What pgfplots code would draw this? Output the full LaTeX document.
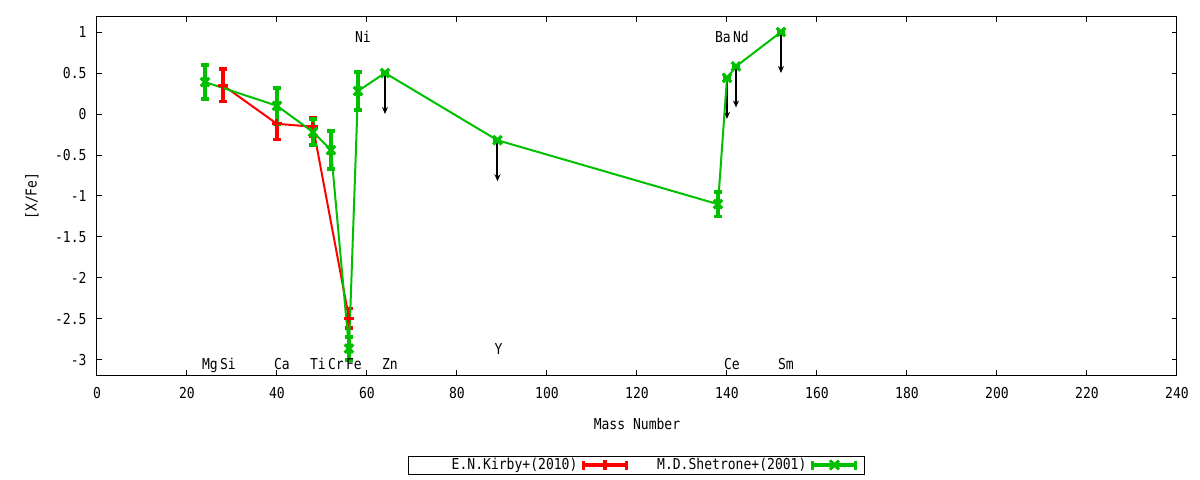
\documentclass[border=0pt]{standalone}
\usepackage{fontspec}
\setmainfont{DejaVu Sans Mono}[FakeStretch=0.87]
\usepackage{pgfplots}
\usepackage{pgfplotstable}
\pgfplotsset{compat=1.18}
\usetikzlibrary{arrows.meta}
\definecolor{gpgreen}{RGB}{0,192,0}

\pgfplotstableread{
x y e
28 0.35 0.20
40 -0.12 0.19
48 -0.155 0.115
56 -2.49 0.12
}\kirby

\pgfplotstableread{
x y e
24 0.39 0.21
40 0.10 0.22
48 -0.22 0.16
52 -0.44 0.23
56 -2.86 0.14
58 0.28 0.23
64 0.50 0
89 -0.32 0
138 -1.10 0.15
140 0.44 0
142 0.58 0
152 1.00 0
}\shetrone

\pgfplotstableread{
x y v
64 0.50 -0.5
89 -0.32 -0.5
140 0.44 -0.5
142 0.58 -0.5
152 1.00 -0.5
}\limits

\begin{document}
\begin{tikzpicture}[font=\fontsize{15bp}{17bp}\selectfont]
\begin{axis}[
  at={(0,0)}, anchor=south west,
  scale only axis, width=1080bp, height=358bp,
  xmin=0, xmax=240, ymin=-3.183, ymax=1.183,
  xtick={0,20,40,60,80,100,120,140,160,180,200,220,240},
  xticklabels={0,20,40,60,80,100,120,140,160,180,200,220,240},
  ytick={-3,-2.5,-2,-1.5,-1,-0.5,0,0.5,1},
  yticklabels={-3,-2.5,-2,-1.5,-1,-0.5,0,0.5,1},
  major tick length=5bp,
  tick style={black, line width=1bp},
  axis line style={black, line width=1bp},
  xticklabel style={yshift=-9bp},
  yticklabel style={xshift=-7bp},
  xlabel={Mass Number},
  ylabel={[X/Fe]},
  xlabel style={at={(axis description cs:0.5,-0.1369)}, anchor=center},
  ylabel style={at={(axis description cs:-0.0602,0.5)}, anchor=center, rotate=0},
  legend columns=2,
  legend plot pos=right,
  legend style={at={(axis description cs:0.4995,-0.2514)}, anchor=center,
    draw=black, line width=0.8bp, inner xsep=2bp, inner ysep=0.5bp,
    column sep=0pt, font=\fontsize{15bp}{17bp}\selectfont},
  clip=false,
]
\addplot[black, line width=2bp, quiver={u=0, v=\thisrow{v}},
  -{Stealth[length=7bp, width=6bp]}, forget plot] table[x=x, y=y] {\limits};

\addplot[color=red, line width=2bp, mark=+, mark size=5bp,
  mark options={line width=3bp, solid},
  error bars/.cd, y dir=both, y explicit,
  error bar style={line width=3.5bp},
  error mark options={rotate=90, line width=3.5bp, mark size=4bp},
  /pgfplots/legend image code/.code={
    \draw[red, line width=4bp] (5bp,0) -- (48bp,0);
    \draw[red, line width=3.5bp] (5bp,-4.5bp) -- (5bp,4.5bp) (48bp,-4.5bp) -- (48bp,4.5bp);
    \draw[red, line width=4bp] (26.5bp,-5bp) -- (26.5bp,5bp);
  }
] table[x=x, y=y, y error=e] {\kirby};
\addlegendentry[text width=163bp, align=right, inner xsep=4bp]{E.N.Kirby+(2010)}

\addplot[color=gpgreen, line width=2bp, mark=x, mark size=6bp,
  mark options={line width=3.2bp, solid},
  error bars/.cd, y dir=both, y explicit,
  error bar style={line width=3.5bp},
  error mark options={rotate=90, line width=3.5bp, mark size=4bp},
  /pgfplots/legend image code/.code={
    \draw[gpgreen, line width=4bp] (4bp,0) -- (47bp,0);
    \draw[gpgreen, line width=3.5bp] (4bp,-4.5bp) -- (4bp,4.5bp) (47bp,-4.5bp) -- (47bp,4.5bp);
    \draw[gpgreen, line width=3bp] (21.5bp,-4.5bp) -- (30.5bp,4.5bp) (21.5bp,4.5bp) -- (30.5bp,-4.5bp);
    \path (53bp,0);
  }
] table[x=x, y=y, y error=e] {\shetrone};
\addlegendentry[text width=174bp, align=right, inner xsep=4bp]{M.D.Shetrone+(2001)}

\begin{scope}[every node/.style={anchor=base west, inner sep=0pt}]
\node at (axis cs:23.3,-3.11) {Mg};
\node at (axis cs:27.3,-3.11) {Si};
\node at (axis cs:39.3,-3.11) {Ca};
\node at (axis cs:47.3,-3.11) {Ti};
\node at (axis cs:51.3,-3.11) {Cr};
\node at (axis cs:55.3,-3.11) {Fe};
\node at (axis cs:63.3,-3.11) {Zn};
\node at (axis cs:57.3,0.87) {Ni};
\node at (axis cs:88.3,-2.937) {Y};
\node at (axis cs:137.3,0.87) {Ba};
\node at (axis cs:139.3,-3.11) {Ce};
\node at (axis cs:141.3,0.87) {Nd};
\node at (axis cs:151.3,-3.11) {Sm};
\end{scope}
\end{axis}
\pgfresetboundingbox
\path[use as bounding box] (-97bp,-105bp) rectangle (1103bp,375bp);
\end{tikzpicture}
\end{document}
